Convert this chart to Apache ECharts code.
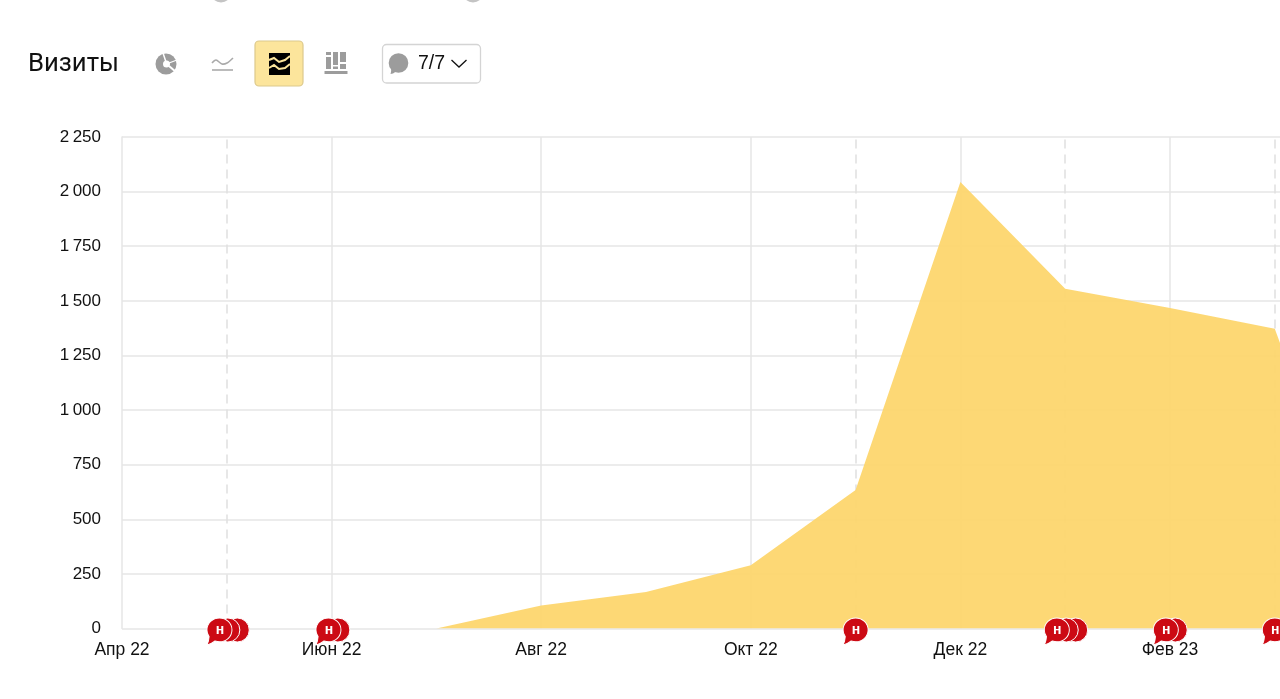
<!DOCTYPE html>
<html>
<head>
<meta charset="utf-8">
<style>html,body{margin:0;padding:0;background:#fff}#c{width:1280px;height:699px}</style>
<script src="https://cdn.jsdelivr.net/npm/echarts@6/dist/echarts.min.js"></script>
</head>
<body>
<div id="c"></div>
<script>
const monthPositions = [0,1,2,3,4,5,6,7,8,9,10,11,12];
const monthLabels = ['Апр 22','','Июн 22','','Авг 22','','Окт 22','','Дек 22','','Фев 23','',''];
const visits = [0,0,0,0,105,167,290,634,2044,1555,1467,1372,50];
const solidMonths = [2,4,6,8,10];
const dashedMonths = [1,7,9,11];
const noteFront = [0.93,1.97,7,8.92,9.96,11];
const noteBack = [1.1,1.01,2.06,9.1,9.01,10.05];
const yMax = 2250, yStep = 250;

const bubble = 'path://M12 0C18.1 0 23 4.9 23 11C23 17.1 18.1 22 12 22C10.6 22 9.3 21.7 8.1 21.3C6.3 22.9 4 24.2 1 25C2 23 2.7 20.9 2.9 17.2C1.7 15.5 1 13.3 1 11C1 4.9 5.9 0 12 0Z';
const gray = '#9c9c9c';
const ink = '#111';

const chart = echarts.init(document.getElementById('c'), null, {renderer:'canvas'});
chart.setOption({
  animation:false,
  backgroundColor:'#fff',
  grid:{left:122, top:137, width:1257.6, height:491.5, containLabel:false, outerBoundsMode:'none'},
  xAxis:{
    type:'value', min:0, max:12, interval:1,
    axisLine:{show:false}, axisTick:{show:false}, splitLine:{show:false},
    axisLabel:{
      margin:13, color:ink, fontFamily:'Liberation Sans', fontSize:17.5,
      showMinLabel:true, hideOverlap:false,
      formatter:v=>monthLabels[monthPositions.indexOf(v)]||''
    }
  },
  yAxis:{
    type:'value', min:0, max:yMax, interval:yStep,
    axisLine:{show:true, lineStyle:{color:'#e6e6e6', width:1.5}},
    axisTick:{show:false},
    splitLine:{show:true, lineStyle:{color:'#e6e6e6', width:1.5}},
    axisLabel:{
      margin:21, color:ink, fontFamily:'Liberation Sans', fontSize:17,
      padding:[6,0,0,0],
      formatter:v=>String(v).replace(/\B(?=(\d{3})+$)/g,'\u2009')
    }
  },
  series:[
    {
      type:'line', z:1, silent:true, symbol:'none', data:[], 
      markLine:{
        silent:true, symbol:'none', z:1, animation:false, label:{show:false},
        data:[
          ...solidMonths.map(m=>({xAxis:m, lineStyle:{type:'solid', color:'#e6e6e6', width:1.5}})),
          ...dashedMonths.map(m=>({xAxis:m, lineStyle:{type:[9,6], color:'#e0e0e0', width:1.5}}))
        ]
      }
    },
    {
      type:'line', z:2, silent:true, symbol:'none',
      lineStyle:{width:0},
      areaStyle:{color:'#fdd56a', opacity:0.93},
      data:monthPositions.map((m,i)=>[m,visits[i]])
    },
    {
      type:'scatter', z:3, clip:false, silent:true, symbol:'circle', symbolSize:24, symbolOffset:[0,1.5],
      itemStyle:{color:'#cc0a14', opacity:1, borderColor:'#fff', borderWidth:1},
      data:noteBack.map(x=>[x,0])
    },
    {
      type:'scatter', z:4, clip:false, silent:true, symbol:bubble, symbolSize:[25,27], symbolOffset:[0,3],
      itemStyle:{color:'#cc0a14', opacity:1, borderColor:'#fff', borderWidth:1},
      label:{show:true, position:'inside', offset:[0.5,-1.5], formatter:'н', color:'#fff', fontFamily:'Liberation Sans', fontWeight:'bold', fontSize:14},
      data:noteFront.map(x=>[x,0])
    }
  ],
  graphic:[
    {type:'circle', shape:{cx:221,cy:-8,r:10.5}, style:{fill:'#c4c4c4'}},
    {type:'circle', shape:{cx:473,cy:-8,r:10.5}, style:{fill:'#c4c4c4'}},
    {type:'text', x:28, y:52, style:{text:'Визиты', font:'25.7px "Roboto"', fill:ink}},
    // pie icon
    {type:'circle', shape:{cx:166,cy:64,r:10.5}, style:{fill:gray}},
    {type:'circle', shape:{cx:166.5,cy:64,r:3.5}, style:{fill:'#fff'}},
    {type:'polyline', shape:{points:[[163,53],[166,62]]}, style:{stroke:'#fff',lineWidth:1.5}},
    {type:'polyline', shape:{points:[[169,66],[176,72]]}, style:{stroke:'#fff',lineWidth:2}},
    {type:'polyline', shape:{points:[[169,63],[177,60]]}, style:{stroke:'#fff',lineWidth:1.2}},
    // line icon
    {type:'polyline', shape:{points:[[212,63],[216,60],[222,64],[227,63],[233,58]], smooth:0.3}, style:{stroke:'#aaa',lineWidth:1.6,fill:null}},
    {type:'line', shape:{x1:212,y1:70,x2:233,y2:70}, style:{stroke:'#aaa',lineWidth:1.6}},
    // area button
    {type:'rect', shape:{x:255,y:41,width:48,height:45,r:4}, style:{fill:'#fce59c',stroke:'#dcc98c',lineWidth:1.2}},
    {type:'rect', shape:{x:269,y:53,width:21,height:22}, style:{fill:'#000'}},
    {type:'polyline', shape:{points:[[269,60],[274,58],[279,62],[285,60],[290,56]]}, style:{stroke:'#fce59c',lineWidth:2,fill:null}},
    {type:'polyline', shape:{points:[[269,68],[274,65],[279,69],[285,68],[290,64]]}, style:{stroke:'#fce59c',lineWidth:2,fill:null}},
    // bars icon
    {type:'rect', shape:{x:326,y:57,width:5,height:12}, style:{fill:gray}},
    {type:'rect', shape:{x:326,y:52,width:5,height:3}, style:{fill:gray}},
    {type:'rect', shape:{x:333,y:52,width:5,height:13}, style:{fill:gray}},
    {type:'rect', shape:{x:333,y:66.5,width:5,height:2.5}, style:{fill:gray}},
    {type:'rect', shape:{x:340,y:52,width:6,height:10}, style:{fill:gray}},
    {type:'rect', shape:{x:340,y:64,width:6,height:5}, style:{fill:gray}},
    {type:'rect', shape:{x:324.5,y:71,width:23,height:3}, style:{fill:gray}},
    // comments dropdown
    {type:'rect', shape:{x:382.5,y:44.5,width:98,height:38.5,r:4}, style:{fill:'#fff',stroke:'#d4d4d4',lineWidth:1.3}},
    {type:'circle', shape:{cx:398.5,cy:63,r:9.8}, style:{fill:gray}},
    {type:'polygon', shape:{points:[[391.5,67],[391,72],[390.5,74],[393,73.5],[396,71.5]]}, style:{fill:gray}},
    {type:'text', x:418, y:54, style:{text:'7/7', font:'19.5px "Liberation Sans"', fill:ink}},
    {type:'polyline', shape:{points:[[451.5,60],[459,67],[466.5,60]]}, style:{stroke:ink,lineWidth:1.3,fill:null}}
  ]
});
</script>
</body>
</html>
